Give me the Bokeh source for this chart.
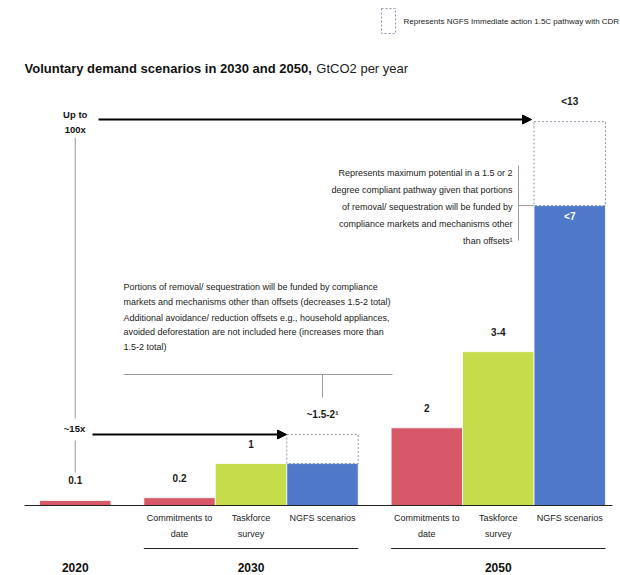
from bokeh.plotting import figure
from bokeh.models import FactorRange, Range1d, Arrow, NormalHead, ColumnDataSource
from bokeh.core.properties import value
from bokeh.embed import file_html
from bokeh.resources import INLINE

# ---------------- data ----------------
groups = ["2020", "2030", "2030", "2030", "2050", "2050", "2050"]
scenarios = ["Actual", "Commitments to date", "Taskforce survey", "NGFS scenarios",
             "Commitments to date", "Taskforce survey", "NGFS scenarios"]
bar_values = [0.13, 0.2, 1.08, 1.08, 2.0, 3.96, 7.72]
value_labels = ["0.1", "0.2", "1", "~1.5-2\u00b9", "2", "3-4", "<13"]

cdr_groups = ["2030", "2050"]
cdr_base = [1.08, 7.72]
cdr_top = [1.83, 9.88]
inner_label = "<7"

tick_labels = ["", "Commitments to\ndate", "Taskforce\nsurvey", "NGFS scenarios",
               "Commitments to\ndate", "Taskforce\nsurvey", "NGFS scenarios"]
group_labels = ["2020", "2030", "2050"]

RED, GREEN, BLUE = "#d65869", "#c6dc4b", "#4e79c9"
color_map = {"Actual": RED, "Commitments to date": RED, "Taskforce survey": GREEN, "NGFS scenarios": BLUE}

FONT = value("Liberation Sans")

# ---------------- layout ----------------
W, H = 620, 575
LEFT = 24
GROUP_PAD = 0.46
RANGE_PAD = 0.21          # absolute padding added on each side
Y0, Y1 = -1.8018, 12.999

factors = list(zip(groups, scenarios))
x_range = FactorRange(*factors, group_padding=GROUP_PAD, range_padding=RANGE_PAD,
                      range_padding_units="absolute")
n_groups = len(dict.fromkeys(groups))
x_start = -RANGE_PAD
x_end = len(factors) + (n_groups - 1) * GROUP_PAD + RANGE_PAD


def sx(px):  # screen x -> synthetic x
    return x_start + (px - LEFT) / (W - LEFT) * (x_end - x_start)


def sy(py):  # screen y -> data y
    return Y1 - py / H * (Y1 - Y0)


p = figure(width=W, height=H, x_range=x_range, y_range=Range1d(Y0, Y1),
           x_axis_location=None, y_axis_location=None, toolbar_location=None,
           output_backend="svg", min_border_left=LEFT, min_border_right=0,
           min_border_top=0, min_border_bottom=0, outline_line_color=None)
p.grid.visible = False

src = ColumnDataSource(dict(x=factors, top=bar_values, color=[color_map[s] for s in scenarios],
                            label=value_labels,
                            anchor=[max(v, cdr_top[cdr_groups.index(g)]) if s == "NGFS scenarios" else v
                                    for g, s, v in zip(groups, scenarios, bar_values)],
                            tick=tick_labels))
p.vbar(x="x", top="top", bottom=0, width=1.0, fill_color="color", line_color="white", line_width=0.8, source=src)

# dashed CDR boxes
p.vbar(x=[(g, "NGFS scenarios") for g in cdr_groups], bottom=cdr_base, top=cdr_top, width=1.0,
       fill_color=None, line_color="#8d98ad", line_dash="2 2", line_width=1)

# value labels
p.text(x="x", y="anchor", text="label", source=src, y_offset=-20, text_align="center",
       text_baseline="middle", text_font=FONT, text_font_style="bold", text_font_size="10px",
       text_color="#1a1a1a")
p.text(x=[(cdr_groups[-1], "NGFS scenarios")], y=[cdr_base[-1]], text=[inner_label], y_offset=11,
       text_align="center", text_baseline="middle", text_font=FONT, text_font_style="bold",
       text_font_size="10px", text_color="white")

# baseline
p.segment(x0=[sx(23)], y0=[0], x1=[sx(612)], y1=[0], line_color="#222222", line_width=1.2)

# category labels
p.text(x="x", y=0, text="tick", source=src, y_offset=7, text_align="center", text_baseline="top",
       text_font=FONT, text_font_size="9px", text_line_height=1.6, text_color="#222222")
p.segment(x0=[("2030", "Commitments to date", -0.5), ("2050", "Commitments to date", -0.5)],
          x1=[("2030", "NGFS scenarios", 0.5), ("2050", "NGFS scenarios", 0.5)],
          y0=[sy(548)] * 2, y1=[sy(548)] * 2, line_color="#222222", line_width=1)
p.text(x=group_labels, y=0, text=group_labels, y_offset=62, text_align="center", text_baseline="middle",
       text_font=FONT, text_font_style="bold", text_font_size="12px", text_color="#111111")

# title
TITLE_SIZE = 13
p.text(x=[sx(24)], y=[sy(68)], text=["Voluntary demand scenarios in 2030 and 2050,"], text_align="left",
       text_baseline="middle", text_font=FONT, text_font_style="bold", text_font_size=f"{TITLE_SIZE}px",
       text_color="#111111")
p.text(x=[sx(24 + 22.18 * TITLE_SIZE + 3.5)], y=[sy(68)], text=["GtCO2 per year"], text_align="left",
       text_baseline="middle", text_font=FONT, text_font_size=f"{TITLE_SIZE}px", text_color="#222222")

# legend
p.quad(left=[sx(381)], right=[sx(395)], top=[sy(8)], bottom=[sy(33)], fill_color=None, line_color="#8d98ad",
       line_dash="2 2", line_width=1)
p.text(x=[sx(403)], y=[sy(21)], text=["Represents NGFS Immediate action 1.5C pathway with CDR"], text_align="left",
       text_baseline="middle", text_font=FONT, text_font_size="8px", text_color="#222222")

# multipliers
p.text(x=["2020"], y=[sy(108)], text=["Up to\n100x"], text_align="center", text_baseline="top", text_font=FONT,
       text_font_style="bold", text_font_size="9.5px", text_line_height=1.45, text_color="#111111")
p.text(x=[sx(74)], y=[sy(428)], text=["~15x"], text_align="center", text_baseline="middle", text_font=FONT,
       text_font_style="bold", text_font_size="9.5px", text_color="#111111")
p.segment(x0=["2020", "2020"], y0=[sy(137), sy(440)], x1=["2020", "2020"], y1=[sy(418), sy(472)],
          line_color="#9a9a9a", line_width=1)
for xs, xe, yy in [(98, 531, 119), (92, 286, 434)]:
    p.add_layout(Arrow(end=NormalHead(size=9, fill_color="black", line_color="black"),
                       x_start=sx(xs), y_start=sy(yy), x_end=sx(xe), y_end=sy(yy),
                       line_width=2, line_color="black"))

# left note
NOTE = "9px"
p.text(x=[sx(123)], y=[sy(281)], text=["Portions of removal/ sequestration will be funded by compliance\n"
                                       "markets and mechanisms other than offsets (decreases 1.5-2 total)"],
       text_align="left", text_baseline="top", text_font=FONT, text_font_size=NOTE, text_line_height=1.55,
       text_color="#222222")
p.text(x=[sx(123)], y=[sy(312)], text=["Additional avoidance/ reduction offsets e.g., household appliances,\n"
                                       "avoided deforestation are not included here (increases more than\n"
                                       "1.5-2 total)"],
       text_align="left", text_baseline="top", text_font=FONT, text_font_size=NOTE, text_line_height=1.45,
       text_color="#222222")
p.segment(x0=[sx(123), ("2030", "NGFS scenarios")], y0=[sy(374), sy(374)],
          x1=[sx(392), ("2030", "NGFS scenarios")], y1=[sy(374), sy(397)],
          line_color="#9a9a9a", line_width=1)

# right note
p.text(x=[sx(512)], y=[sy(167)], text=["Represents maximum potential in a 1.5 or 2\n"
                                       "degree compliant pathway given that portions\n"
                                       "of removal/ sequestration will be funded by\n"
                                       "compliance markets and mechanisms other\n"
                                       "than offsets\u00b9"],
       text_align="right", text_baseline="top", text_font=FONT, text_font_size=NOTE, text_line_height=1.72,
       text_color="#222222")
p.segment(x0=[sx(518), sx(518)], y0=[sy(165), cdr_base[-1]], x1=[sx(518), ("2050", "NGFS scenarios", -0.5)],
          y1=[sy(240), cdr_base[-1]], line_color="#9a9a9a", line_width=1)

open("out.html", "w").write(file_html(p, INLINE))
